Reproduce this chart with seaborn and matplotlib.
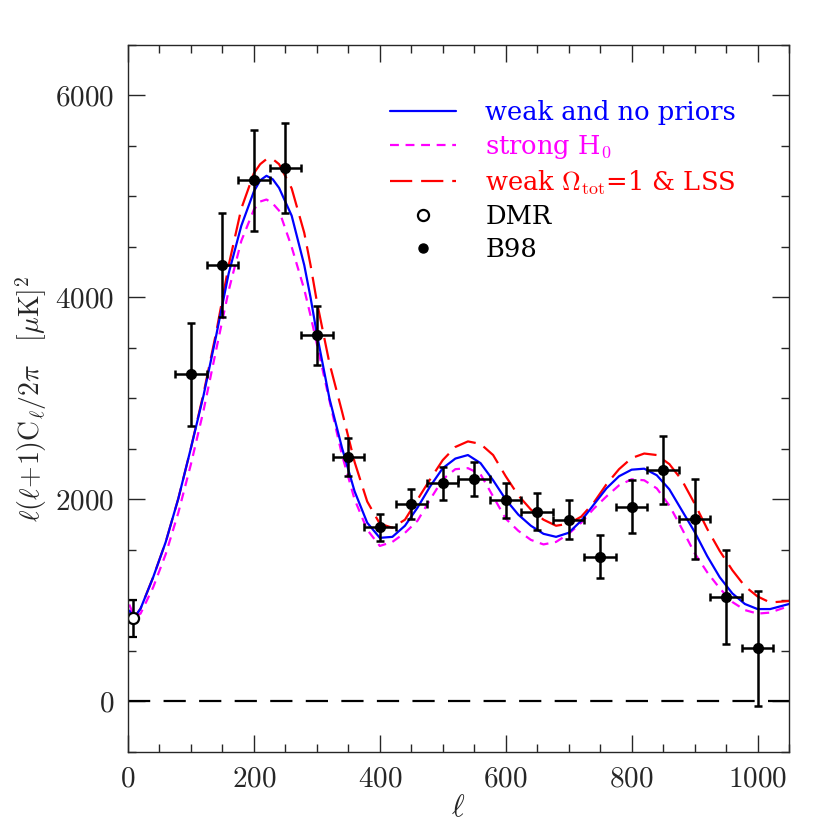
import matplotlib
matplotlib.use('Agg')
import matplotlib.pyplot as plt
from matplotlib.ticker import MultipleLocator
from matplotlib.lines import Line2D
import pandas as pd
import seaborn as sns

# model curves
ell = [2, 10, 20, 40, 60, 80, 100, 120, 140, 160, 180, 200, 210, 220, 230, 240,
       260, 280, 290, 300, 320, 340, 360, 380, 400, 420, 440, 460, 480, 500, 520,
       540, 560, 580, 600, 620, 640, 660, 680, 700, 720, 740, 760, 780, 800, 820,
       840, 860, 880, 900, 920, 940, 960, 980, 1000, 1020, 1050]
weak = [900, 830, 920, 1230, 1580, 2010, 2510, 3030, 3620, 4240, 4710, 5050, 5160, 5205, 5170, 5085,
        4810, 4320, 4000, 3640, 3000, 2510, 2080, 1770, 1620, 1630, 1740, 1920, 2130, 2310, 2405,
        2440, 2360, 2190, 2000, 1850, 1740, 1660, 1630, 1670, 1790, 1950, 2110, 2230, 2295, 2305,
        2240, 2100, 1890, 1680, 1440, 1230, 1070, 965, 915, 915, 965]
strong_h0 = [960, 840, 870, 1130, 1460, 1870, 2350, 2880, 3480, 4070, 4560, 4870, 4950, 4970, 4930, 4860,
             4500, 4080, 3820, 3540, 2980, 2440, 2000, 1700, 1540, 1580, 1670, 1790, 2000, 2200, 2300,
             2310, 2250, 2030, 1810, 1690, 1600, 1555, 1580, 1660, 1770, 1910, 2030, 2140, 2200, 2190,
             2110, 1940, 1710, 1470, 1280, 1120, 985, 905, 870, 880, 945]
weak_lss = [900, 830, 920, 1230, 1580, 2010, 2510, 3050, 3650, 4320, 4880, 5230, 5320, 5370, 5370, 5320,
            5080, 4640, 4320, 3960, 3350, 2870, 2370, 1980, 1760, 1720, 1800, 2000, 2200, 2390, 2520,
            2575, 2550, 2440, 2230, 2040, 1900, 1800, 1740, 1760, 1830, 1970, 2150, 2300, 2410, 2455,
            2440, 2350, 2190, 1960, 1710, 1490, 1300, 1140, 1040, 980, 995]

# DMR point
dmr_l = [8]
dmr_c = [822]
dmr_err = [180]

# B98 band powers
b98_l = [100, 150, 200, 250, 300, 350, 400, 450, 500, 550, 600, 650, 700, 750, 800, 850, 900, 950, 1000]
b98_c = [3240, 4320, 5160, 5280, 3625, 2420, 1725, 1955, 2160, 2200, 1990, 1880, 1800, 1435, 1930, 2290, 1810, 1030, 525]
b98_err = [510, 515, 500, 445, 290, 190, 135, 145, 165, 170, 170, 180, 195, 215, 265, 335, 395, 465, 570]
b98_lerr = 25

sns.set_style('ticks')
plt.rcParams['font.family'] = ['cmr10', 'DejaVu Serif']
plt.rcParams['mathtext.fontset'] = 'cm'
plt.rcParams['axes.formatter.use_mathtext'] = True

fig = plt.figure(figsize=(8.3, 8.3), dpi=100)
ax = fig.add_axes([0.1542, 0.094, 0.7964, 0.8518])

df = pd.DataFrame({'ell': ell, 'weak': weak, 'strong': strong_h0, 'lss': weak_lss})

ax.axhline(0, color='black', lw=1.6, dashes=(10, 6))
sns.lineplot(data=df, x='ell', y='lss', ax=ax, color='#ff0000', lw=1.6,
             linestyle=(0, (10, 4)), label=r'weak $\Omega_{\rm tot}$=1 & LSS')
sns.lineplot(data=df, x='ell', y='strong', ax=ax, color='#ff00ff', lw=1.6,
             linestyle=(0, (4, 3)), label=r'strong H$_0$')
sns.lineplot(data=df, x='ell', y='weak', ax=ax, color='#0000ff', lw=1.6,
             label='weak and no priors')

ax.errorbar(b98_l, b98_c, yerr=b98_err, xerr=b98_lerr, fmt='o', color='black',
            ms=7, elinewidth=1.8, capsize=3.2, capthick=1.8)
ax.errorbar(dmr_l, dmr_c, yerr=dmr_err, fmt='o', mfc='white', mec='black', color='black',
            ms=8, mew=1.6, elinewidth=1.8, capsize=3.2, capthick=1.8)

ax.set_xlim(0, 1050)
ax.set_ylim(-500, 6500)
ax.xaxis.set_major_locator(MultipleLocator(200))
ax.xaxis.set_minor_locator(MultipleLocator(50))
ax.yaxis.set_major_locator(MultipleLocator(2000))
ax.yaxis.set_minor_locator(MultipleLocator(500))
ax.tick_params(which='both', direction='in', top=True, right=True, labelsize=21, width=1)
ax.tick_params(which='major', length=12, pad=10)
ax.tick_params(which='minor', length=6)
for s in ax.spines.values():
    s.set_linewidth(1)

ax.set_xlabel(r'$\ell$', fontsize=22, labelpad=2)
ax.set_ylabel(r'$\ell(\ell\!+\!1)\mathrm{C}_\ell/2\pi\quad[\mu\mathrm{K}]^2$', fontsize=20, labelpad=4)

h, l = ax.get_legend_handles_labels()
names = ['weak and no priors', r'strong H$_0$', r'weak $\Omega_{\rm tot}$=1 & LSS']
hh = [h[l.index(o)] for o in names]
hh.append(Line2D([], [], ls='none', marker='o', mfc='white', mec='black', ms=8, mew=1.6))
hh.append(Line2D([], [], ls='none', marker='o', color='black', ms=6.5))
leg = ax.legend(hh, names + ['DMR', 'B98'], loc='upper left', bbox_to_anchor=(0.362, 0.955),
                frameon=False, prop={'family': 'DejaVu Serif', 'size': 18.5},
                handlelength=2.55, handletextpad=1.15, labelspacing=0.3)
for txt, c in zip(leg.get_texts(), ['#0000ff', '#ff00ff', '#ff0000', 'black', 'black']):
    txt.set_color(c)

fig.savefig('out.png', dpi=100)
